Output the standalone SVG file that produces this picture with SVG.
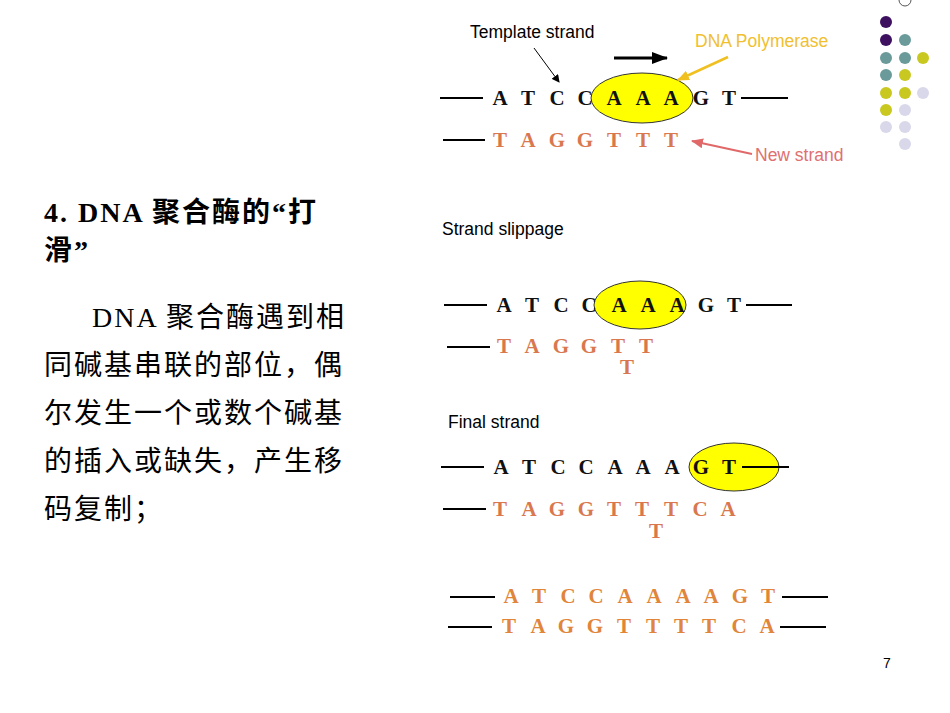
<svg xmlns="http://www.w3.org/2000/svg" width="950" height="713" viewBox="0 0 950 713">
<style>
.b{font-family:"Liberation Serif","DejaVu Serif",serif;font-weight:bold;font-size:21px;text-anchor:middle}
.k{fill:#111}.o{fill:#d9784f}.o2{fill:#e0853a}
.l{stroke:#000;stroke-width:2}
.s{font-family:"Liberation Sans",Arial,sans-serif;font-size:17.5px}
.cn{font-family:"Liberation Serif","Noto Sans CJK SC",serif;font-size:28px;letter-spacing:2px;fill:#000}
.e{fill:#ffff00;stroke:#333;stroke-width:1}
</style>
<defs>
<marker id="ab" markerWidth="8" markerHeight="8" refX="7" refY="4" orient="auto" markerUnits="userSpaceOnUse"><path d="M0,0L8,4L0,8z" fill="#000"/></marker>
<marker id="ay" markerWidth="12" markerHeight="10" refX="11" refY="5" orient="auto" markerUnits="userSpaceOnUse"><path d="M0,0L12,5L0,10z" fill="#f0c020"/></marker>
<marker id="ar" markerWidth="12" markerHeight="10" refX="11" refY="5" orient="auto" markerUnits="userSpaceOnUse"><path d="M0,0L12,5L0,10z" fill="#e06868"/></marker>
<marker id="abig" markerWidth="16" markerHeight="12" refX="15" refY="6" orient="auto" markerUnits="userSpaceOnUse"><path d="M0,0L16,6L0,12z" fill="#000"/></marker>
</defs>
<rect width="950" height="713" fill="#fff"/>
<g id="dots">
<circle cx="905" cy="0" r="6" fill="none" stroke="#555"/>
<circle cx="886" cy="22" r="6" fill="#3d1060"/>
<circle cx="886" cy="40" r="6" fill="#3d1060"/><circle cx="905" cy="40" r="6" fill="#6a9a9a"/>
<circle cx="886" cy="58" r="6" fill="#6a9a9a"/><circle cx="905" cy="58" r="6" fill="#6a9a9a"/><circle cx="923" cy="58" r="6" fill="#c8c820"/>
<circle cx="886" cy="75" r="6" fill="#6a9a9a"/><circle cx="905" cy="75" r="6" fill="#c8c820"/>
<circle cx="886" cy="93" r="6" fill="#c8c820"/><circle cx="905" cy="93" r="6" fill="#c8c820"/><circle cx="923" cy="93" r="6" fill="#d8d8ea"/>
<circle cx="886" cy="110" r="6" fill="#c8c820"/><circle cx="905" cy="110" r="6" fill="#d8d8ea"/>
<circle cx="886" cy="127" r="6" fill="#d8d8ea"/><circle cx="905" cy="127" r="6" fill="#d8d8ea"/>
<circle cx="905" cy="144" r="6" fill="#d8d8ea"/>
</g>
<g id="left-text">
<text class="cn" x="44" y="222" font-weight="bold">4.  DNA 聚合酶的“打</text>
<text class="cn" x="44" y="260" font-weight="bold">滑”</text>
<text class="cn" x="92" y="327">DNA 聚合酶遇到相</text>
<text class="cn" x="44" y="375">同碱基串联的部位，偶</text>
<text class="cn" x="44" y="423">尔发生一个或数个碱基</text>
<text class="cn" x="44" y="471">的插入或缺失，产生移</text>
<text class="cn" x="44" y="519">码复制；</text>
</g>
<g id="ellipses">
<ellipse class="e" cx="642" cy="98" rx="51" ry="25"/>
<ellipse class="e" cx="640" cy="305" rx="46" ry="24"/>
<ellipse class="e" cx="734" cy="467" rx="45" ry="24"/>
</g>
<g id="connectors">
<line class="l" x1="440" y1="98" x2="483" y2="98"/><line class="l" x1="741" y1="98" x2="788" y2="98"/>
<line class="l" x1="443" y1="140" x2="485" y2="140"/>
<line class="l" x1="444" y1="305" x2="487" y2="305"/><line class="l" x1="746" y1="305" x2="792" y2="305"/>
<line class="l" x1="447" y1="347" x2="490" y2="347"/>
<line class="l" x1="441" y1="467" x2="484" y2="467"/><line class="l" x1="742" y1="467" x2="789" y2="467"/>
<line class="l" x1="443" y1="509" x2="486" y2="509"/>
<line class="l" x1="450" y1="597" x2="495" y2="597"/><line class="l" x1="782" y1="597" x2="828" y2="597"/>
<line class="l" x1="448" y1="627" x2="492" y2="627"/><line class="l" x1="780" y1="627" x2="826" y2="627"/>
<line x1="614" y1="58" x2="667" y2="58" stroke="#000" stroke-width="3" marker-end="url(#abig)"/>
<line x1="534" y1="48" x2="559" y2="82" stroke="#000" stroke-width="1" marker-end="url(#ab)"/>
<line x1="728" y1="57" x2="678" y2="80" stroke="#f0c020" stroke-width="2.5" marker-end="url(#ay)"/>
<line x1="752" y1="154" x2="692" y2="141" stroke="#e06868" stroke-width="2" marker-end="url(#ar)"/>
</g>
<g id="labels" class="s">
<text x="470" y="38" fill="#000">Template strand</text>
<text x="695" y="47" fill="#f0c030">DNA Polymerase</text>
<text x="755" y="161" fill="#e07070">New strand</text>
<text x="442" y="235" fill="#000">Strand slippage</text>
<text x="448" y="428" fill="#000">Final strand</text>
<text x="883" y="668" font-size="14" fill="#000">7</text>
</g>
<g id="seqs" class="b">
<text class="k" x="500 528 557 585 614 643 671 701 729" y="105">ATCCAAAGT</text>
<text class="o" x="500 528 557 585 614 643 671" y="147">TAGGTTT</text>
<text class="k" x="504 532 561 589 619 648 677 706 734" y="312">ATCCAAAGT</text>
<text class="o" x="504 532 561 589 618 646" y="353">TAGGTT</text>
<text class="o" x="627" y="374">T</text>
<text class="k" x="501 529 558 586 615 643 672 701 729" y="474">ATCCAAAGT</text>
<text class="o" x="500 529 557 586 614 642 671 700 728" y="516">TAGGTTTCA</text>
<text class="o" x="656" y="538">T</text>
<text class="o2" x="511 539 568 596 625 654 683 711 740 768" y="603">ATCCAAAAGT</text>
<text class="o2" x="509 538 566 595 624 653 681 709 739 767" y="633">TAGGTTTTCA</text>
</g>
</svg>
